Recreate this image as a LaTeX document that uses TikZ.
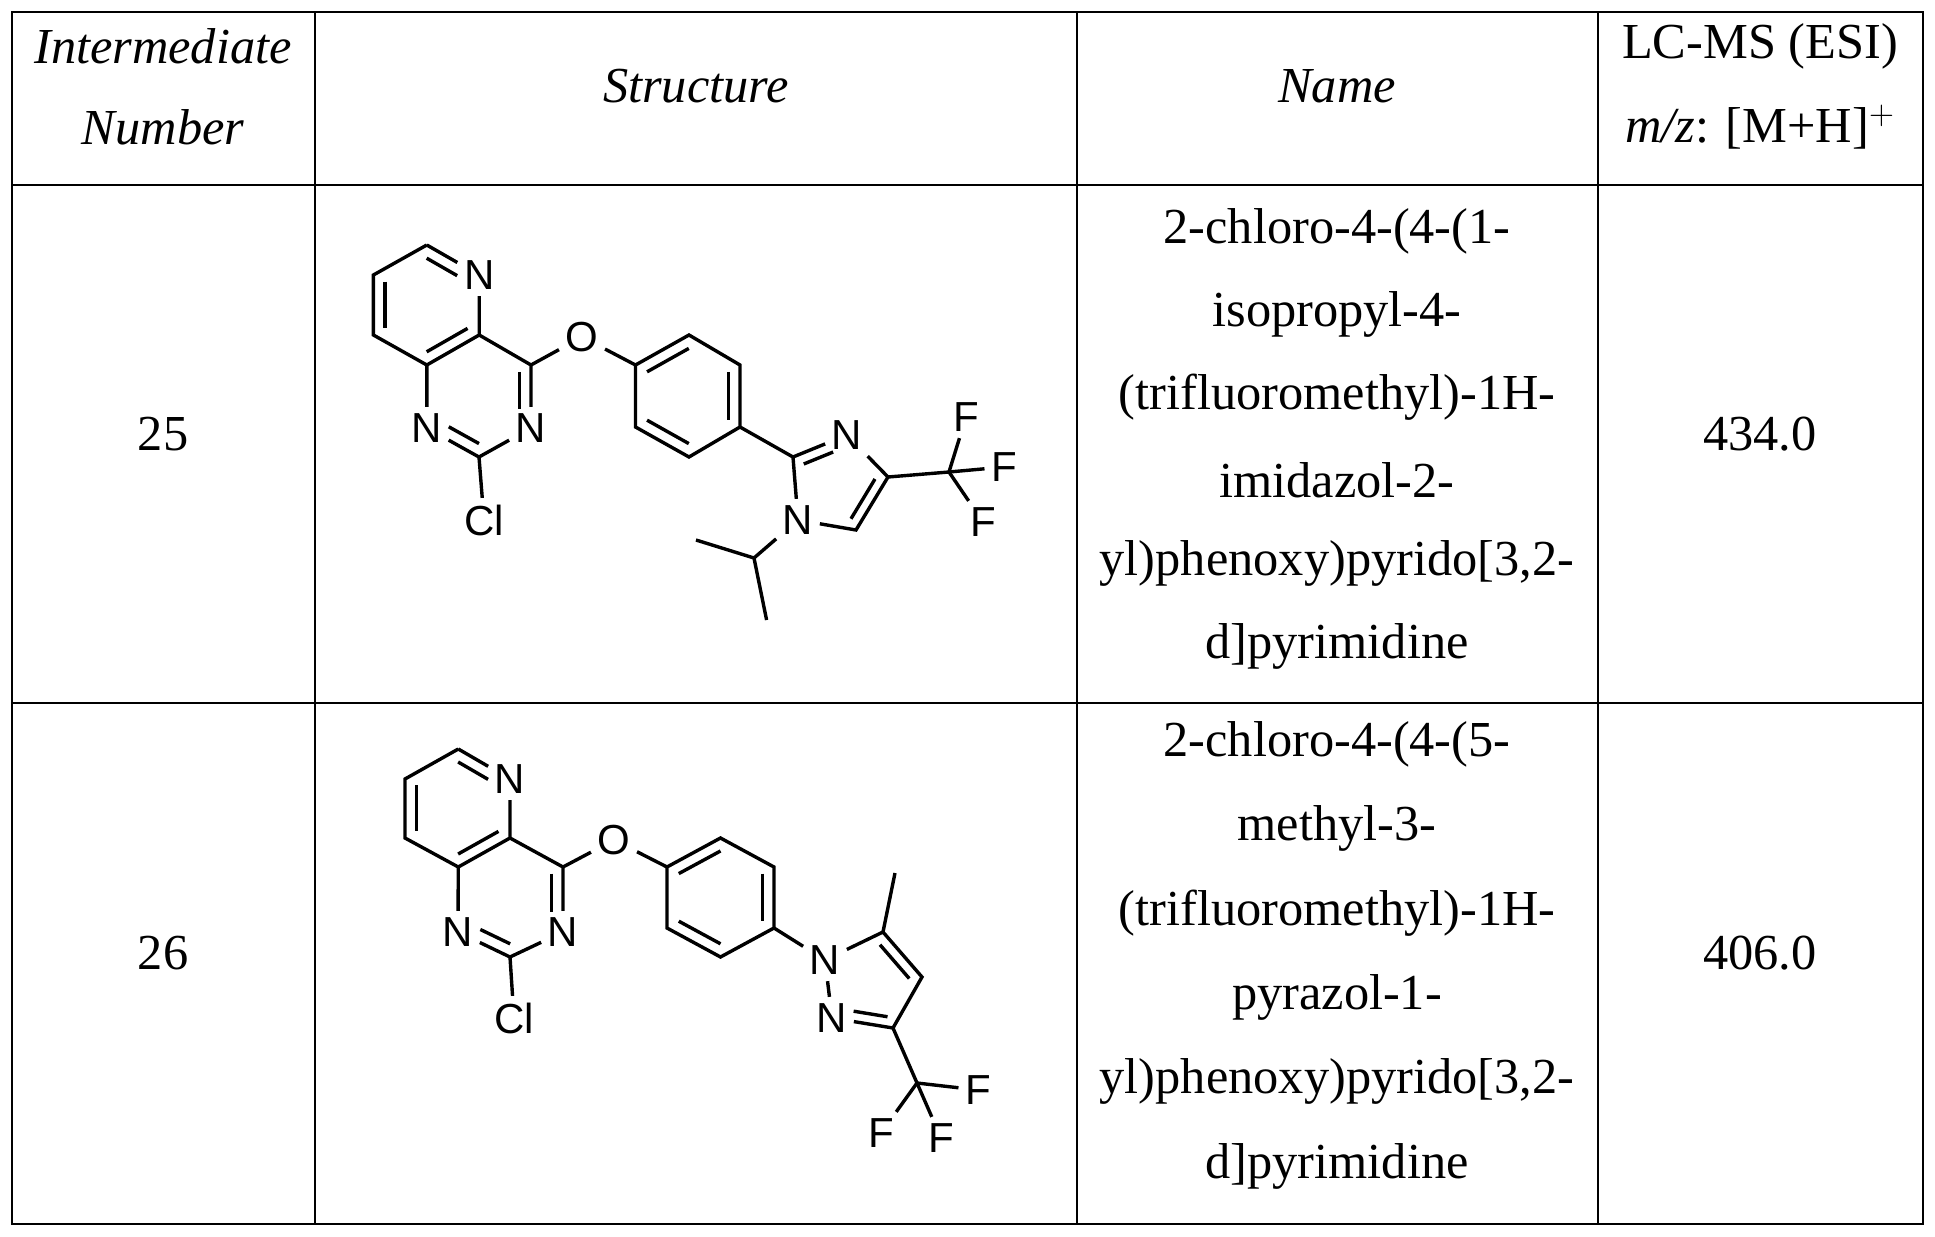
\documentclass[tikz,border=0pt]{standalone}
\usepackage{fontspec}
\setmainfont{Liberation Serif}
\newfontfamily\chemfont{Liberation Sans}
\usetikzlibrary{calc}
\begin{document}
\begin{tikzpicture}[x=0.5pt,y=-0.5pt,line width=1.3pt,
  atom/.style={font=\chemfont\fontsize{21}{21}\selectfont,inner sep=2.5pt},
  txt/.style={font=\fontsize{25.2}{28}\selectfont,inner sep=0pt},
  bnd/.style={line width=1.7pt},
  ns/.style={shorten >=6pt}, nsl/.style={shorten <=6pt}]
\useasboundingbox (0,0) rectangle (1935,1237);
\draw (12,12) rectangle (1923,1224);
\draw (315,12) -- (315,1224) (1077,12) -- (1077,1224) (1598,12) -- (1598,1224);
\draw (12,185) -- (1923,185) (12,703) -- (1923,703);
% header
\node[txt] (h1a) at (163,46) {\itshape Intermediate};
\node[txt] (h1b) at (163,127) {\itshape Number};
\node[txt] (h2) at (696,86) {\itshape Structure};
\node[txt] (h3) at (1337,86) {\itshape Name};
\node[txt] (h4a) at (1760,46) {LC-MS (ESI)};
\node[txt] (h4b) at (1760,127) {\textit{m/z}: [M+H]$^{+}$};
% row 1
\node[txt] (n25) at (163,434) {25};
\node[txt] (m25) at (1760,434) {434.0};
\foreach \t [count=\i from 0] in {2-chloro-4-(4-(1-,isopropyl-4-,(trifluoromethyl)-1H-,imidazol-2-,{yl)phenoxy)pyrido[3,2-},d]pyrimidine}
  \node[txt] (na\i) at (1337,231+83*\i) {\t};
\node[txt] (n26) at (163,953) {26};
\node[txt] (m26) at (1760,953) {406.0};
\foreach \t [count=\i from 0] in {2-chloro-4-(4-(5-,methyl-3-,(trifluoromethyl)-1H-,pyrazol-1-,{yl)phenoxy)pyrido[3,2-},d]pyrimidine}
  \node[txt] (nb\i) at (1337,744+84.4*\i) {\t};
% ===== structure 1
\begin{scope}[bnd]
\coordinate (a1) at (426.8,245); \coordinate (a2) at (373.4,275);
\coordinate (a3) at (373.4,335); \coordinate (a8) at (426.8,365);
\coordinate (a4) at (479.2,335); \node[atom] (aN5) at (479.2,275) {N};
\coordinate (aC4) at (531,365); \node[atom] (aN3) at (531,428) {N};
\coordinate (aC2) at (479,457); \node[atom] (aN1) at (426.8,428) {N};
\node[atom] (aCl) at (484,520) {Cl};
\node[atom] (aO) at (582,337) {O};
\coordinate (p1) at (635.5,365); \coordinate (p2) at (689,335);
\coordinate (p3) at (740,365); \coordinate (p4) at (740,427);
\coordinate (p5) at (689,457); \coordinate (p6) at (635.5,427);
\coordinate (i2) at (793,457); \node[atom] (iN3) at (847,435) {N};
\coordinate (i4) at (888,477); \coordinate (i5) at (856,530);
\node[atom] (iN1) at (798,520) {N};
\coordinate (cf) at (949,472);
\node[atom] (F1) at (966,417) {F}; \node[atom] (F2) at (1004,467) {F};
\node[atom] (F3) at (983,522) {F};
\coordinate (ip) at (754,558); \coordinate (me1) at (696,540); \coordinate (me2) at (766.6,620);
\coordinate (cA) at (426.3,305); \coordinate (cB) at (479,396); \coordinate (cP) at (688,396);
\coordinate (cI) at (836,485);
\draw (a1) -- (a2) -- (a3) -- (a8) -- (a4) -- (aN5) -- (a1);
\draw (a4) -- (aC4) -- (aN3) -- (aC2) -- (aN1) -- (a8);
\draw (aC2) -- (aCl); \draw (aC4) -- (aO) -- (p1);
\draw (p1) -- (p2) -- (p3) -- (p4) -- (p5) -- (p6) -- (p1);
\draw (p4) -- (i2) -- (iN3) -- (i4) -- (i5) -- (iN1) -- (i2);
\draw (i4) -- (cf); \draw (cf) -- (F1); \draw (cf) -- (F2); \draw (cf) -- (F3);
\draw (iN1) -- (ip) -- (me1); \draw (ip) -- (me2);
\draw[ns] ($(a1)!0.22!(cA)$) -- ($(aN5)!0.22!(cA)$);
\draw ($(a2)!0.22!(cA)$) -- ($(a3)!0.22!(cA)$);
\draw ($(a8)!0.22!(cA)$) -- ($(a4)!0.22!(cA)$);
\draw[ns] ($(aC4)!0.22!(cB)$) -- ($(aN3)!0.22!(cB)$);
\draw[nsl] ($(aN1)!0.22!(cB)$) -- ($(aC2)!0.22!(cB)$);
\draw ($(p1)!0.22!(cP)$) -- ($(p2)!0.22!(cP)$);
\draw ($(p3)!0.22!(cP)$) -- ($(p4)!0.22!(cP)$);
\draw ($(p5)!0.22!(cP)$) -- ($(p6)!0.22!(cP)$);
\draw[ns] ($(i2)!0.25!(cI)$) -- ($(iN3)!0.25!(cI)$);
\draw ($(i4)!0.25!(cI)$) -- ($(i5)!0.25!(cI)$);
\end{scope}
% ===== structure 2
\begin{scope}[bnd]
\coordinate (b1) at (458.3,749); \coordinate (b2) at (405,779);
\coordinate (b3) at (405,838); \coordinate (b8) at (458.3,867);
\coordinate (b4) at (510,838); \node[atom] (bN5) at (510,779) {N};
\coordinate (bC4) at (563,867); \node[atom] (bN3) at (563,932) {N};
\coordinate (bC2) at (510,957); \node[atom] (bN1) at (458,932) {N};
\node[atom] (bCl) at (514,1018) {Cl};
\node[atom] (bO) at (614,840) {O};
\coordinate (q1) at (667,867); \coordinate (q2) at (720.5,838);
\coordinate (q3) at (774,867); \coordinate (q4) at (774,928);
\coordinate (q5) at (720.5,957); \coordinate (q6) at (667,928);
\node[atom] (zN1) at (825,960) {N}; \coordinate (z5) at (883,932);
\coordinate (z4) at (922,977); \coordinate (z3) at (893,1028);
\node[atom] (zN2) at (832,1018) {N};
\coordinate (zme) at (895,873); \coordinate (gf) at (917,1083);
\node[atom] (G1) at (978,1090) {F}; \node[atom] (G2) at (881,1133) {F};
\node[atom] (G3) at (941,1138) {F};
\coordinate (dA) at (457.5,808); \coordinate (dB) at (510.5,897); \coordinate (dP) at (720.5,897);
\coordinate (dZ) at (871,983);
\draw (b1) -- (b2) -- (b3) -- (b8) -- (b4) -- (bN5) -- (b1);
\draw (b4) -- (bC4) -- (bN3) -- (bC2) -- (bN1) -- (b8);
\draw (bC2) -- (bCl); \draw (bC4) -- (bO) -- (q1);
\draw (q1) -- (q2) -- (q3) -- (q4) -- (q5) -- (q6) -- (q1);
\draw (q4) -- (zN1) -- (z5) -- (z4) -- (z3) -- (zN2) -- (zN1);
\draw (z5) -- (zme); \draw (z3) -- (gf);
\draw (gf) -- (G1); \draw (gf) -- (G2); \draw (gf) -- (G3);
\draw[ns] ($(b1)!0.22!(dA)$) -- ($(bN5)!0.22!(dA)$);
\draw ($(b2)!0.22!(dA)$) -- ($(b3)!0.22!(dA)$);
\draw ($(b8)!0.22!(dA)$) -- ($(b4)!0.22!(dA)$);
\draw[ns] ($(bC4)!0.22!(dB)$) -- ($(bN3)!0.22!(dB)$);
\draw[nsl] ($(bN1)!0.22!(dB)$) -- ($(bC2)!0.22!(dB)$);
\draw ($(q1)!0.22!(dP)$) -- ($(q2)!0.22!(dP)$);
\draw ($(q3)!0.22!(dP)$) -- ($(q4)!0.22!(dP)$);
\draw ($(q5)!0.22!(dP)$) -- ($(q6)!0.22!(dP)$);
\draw ($(z5)!0.25!(dZ)$) -- ($(z4)!0.25!(dZ)$);
\draw[ns] ($(z3)!0.25!(dZ)$) -- ($(zN2)!0.25!(dZ)$);
\end{scope}
\end{tikzpicture}
\end{document}
